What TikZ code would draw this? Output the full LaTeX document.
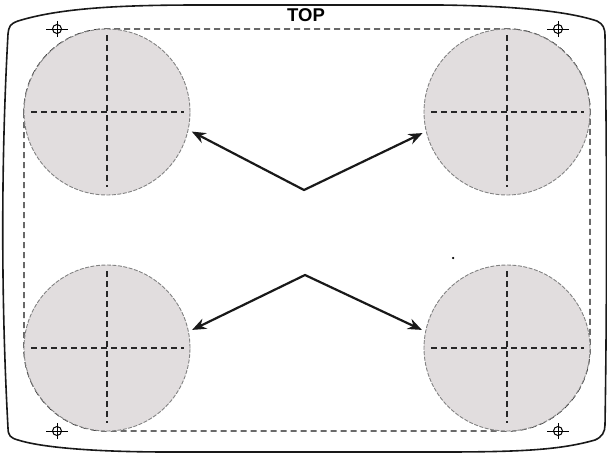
\documentclass[tikz,border=0pt]{standalone}
\usepackage{fontspec}
\setsansfont{Liberation Sans}
\usetikzlibrary{arrows.meta}
\definecolor{padfill}{RGB}{225,221,222}
\definecolor{padedge}{RGB}{130,130,130}
\begin{document}
\begin{tikzpicture}[x=1pt, y=-1pt, >={Stealth[length=14pt,width=11pt]}]
  \tikzstyle{pad}=[circle, draw=padedge, fill=padfill, line width=0.9pt, dash pattern=on 4pt off 1.5pt, minimum size=166pt, inner sep=0pt, outer sep=4pt]
  \tikzstyle{padcross}=[line width=1.3pt, dash pattern=on 6pt off 4pt, black!85]
  \tikzstyle{frame}=[line width=1.4pt, dash pattern=on 6pt off 4pt, black!90, rounded corners=83pt]
  \tikzstyle{regmark}=[circle, draw, line width=1pt, minimum size=9pt, inner sep=0pt]
  \tikzstyle{regline}=[line width=1pt]
  \tikzstyle{arrowline}=[line width=2.2pt, black!90]
  \useasboundingbox (0,0) rectangle (607,453);
  % outer outline of the panel
  \draw[line width=1.6pt, black!90]
    (8,34) .. controls (9,26) and (10,24) .. (18,21)
    .. controls (60,8) and (120,5) .. (200,5) -- (440,5)
    .. controls (520,6) and (570,12) .. (597,21)
    .. controls (603,24) and (605,28) .. (605,36)
    .. controls (607,160) and (607,300) .. (605,425)
    .. controls (605,432) and (602,437) .. (595,440)
    .. controls (560,450) and (520,452) .. (440,452) -- (170,452)
    .. controls (90,452) and (40,447) .. (18,440)
    .. controls (11,438) and (8,436) .. (8,428)
    .. controls (1,300) and (1,160) .. (8,34) -- cycle;
  \draw[frame] (24,29) rectangle (590,431);
  \node[font=\sffamily\bfseries\fontsize{18.5}{18.5}\selectfont] (toplabel) at (306,15) {TOP};
  % pads with centre lines
  \foreach \n/\x/\y in {tl/107/112, tr/507/112, bl/107/348, br/507/348} {
    \node[pad] (\n) at (\x,\y) {};
    \draw[padcross] ([xshift=-76pt]\n.center) -- ([xshift=77pt]\n.center);
    \draw[padcross] ([yshift=77pt]\n.center) -- ([yshift=-75pt]\n.center);
  }
  % registration marks
  \foreach \m/\x/\y in {ma/57/29, mb/558/29, mc/57/431, md/558/431} {
    \node[regmark] (\m) at (\x,\y) {};
    \draw[regline] ([xshift=-11pt]\m.center) -- ([xshift=11pt]\m.center);
    \draw[regline] ([yshift=-8pt]\m.center) -- ([yshift=8pt]\m.center);
  }
  \coordinate (upv) at (304,190);
  \coordinate (lov) at (305,275);
  \draw[arrowline, <->] (tl.-13) -- (upv) -- (tr.194);
  \draw[arrowline, <->] (bl.12.6) -- (lov) -- (br.168);
  \node[circle, fill=black, minimum size=2.5pt, inner sep=0pt] (speck) at (453,258) {};
\end{tikzpicture}
\end{document}
